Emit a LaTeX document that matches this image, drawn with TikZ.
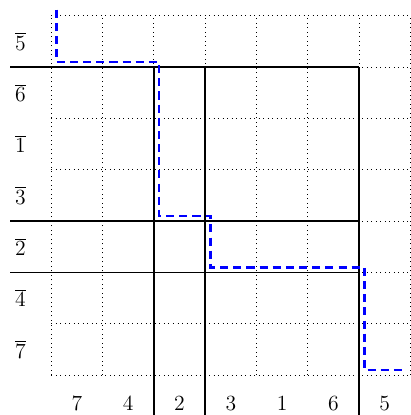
\documentclass[tikz,border=0pt]{standalone}
\begin{document}
\begin{tikzpicture}[x=1cm,y=1cm,
  gridline/.style={dotted, line width=0.5pt},
  solidline/.style={black, thick},
  pathline/.style={blue, line width=1.5pt, dash pattern=on 4.5pt off 2.8pt},
  lab/.style={font=\large, inner sep=0pt}]
\useasboundingbox (-1.0,-0.78) rectangle (7.0,7.31);
\draw[gridline] (0,0) grid (7,7);
% solid lines
\draw[solidline] (-0.8,6) -- (6,6);
\draw[solidline] (-0.8,3) -- (6,3);
\draw[solidline] (-0.8,2) -- (6,2);
\draw[solidline] (2,6) -- (2,-0.8);
\draw[solidline] (3,6) -- (3,-0.8);
\draw[solidline] (6,6) -- (6,-0.8);
% row labels
\node[lab] (r5) at (-0.6,6.5) {$\overline{5}$};
\node[lab] (r6) at (-0.6,5.5) {$\overline{6}$};
\node[lab] (r1) at (-0.6,4.5) {$\overline{1}$};
\node[lab] (r3) at (-0.6,3.5) {$\overline{3}$};
\node[lab] (r2) at (-0.6,2.5) {$\overline{2}$};
\node[lab] (r4) at (-0.6,1.5) {$\overline{4}$};
\node[lab] (r7) at (-0.6,0.5) {$\overline{7}$};
% column labels
\node[lab] (c7) at (0.5,-0.55) {$7$};
\node[lab] (c4) at (1.5,-0.55) {$4$};
\node[lab] (c2) at (2.5,-0.55) {$2$};
\node[lab] (c3) at (3.5,-0.55) {$3$};
\node[lab] (c1) at (4.5,-0.55) {$1$};
\node[lab] (c6) at (5.5,-0.55) {$6$};
\node[lab] (c5) at (6.5,-0.55) {$5$};
% blue path
\draw[pathline] (0.1,7.12) -- (0.1,6.1) -- (2.1,6.1) -- (2.1,3.1) -- (3.1,3.1) -- (3.1,2.1) -- (6.1,2.1) -- (6.1,0.1) -- (6.9,0.1);
\end{tikzpicture}
\end{document}
